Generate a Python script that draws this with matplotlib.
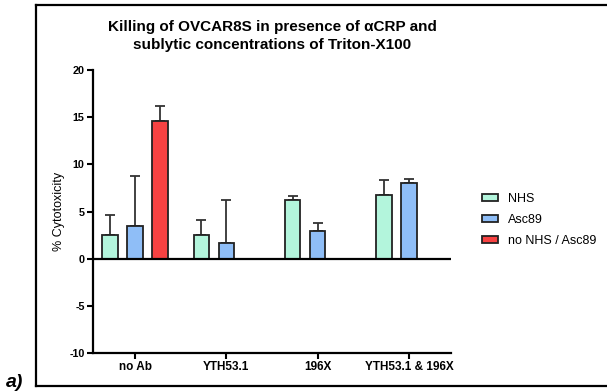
import numpy as np
import matplotlib
matplotlib.use("Agg")
import matplotlib.pyplot as plt
from matplotlib.lines import Line2D

plt.rcParams['font.family'] = ['Liberation Sans', 'DejaVu Sans']
plt.rcParams['axes.unicode_minus'] = False

# data
groups = ["no Ab", "YTH53.1", "196X", "YTH53.1 & 196X"]
nhs_mean = [2.5, 2.5, 6.2, 6.7]
nhs_err = [2.1, 1.55, 0.45, 1.6]
asc_mean = [3.5, 1.65, 2.9, 8.0]
asc_err = [5.3, 4.55, 0.9, 0.4]
ctrl_mean = [14.6]
ctrl_err = [1.6]

series = [
    ("NHS", nhs_mean, nhs_err, "#b3f5dc", -0.273),
    ("Asc89", asc_mean, asc_err, "#8fbef7", 0.0),
    ("no NHS / Asc89", ctrl_mean, ctrl_err, "#f74242", 0.273),
]

fig = plt.figure(figsize=(6.07, 3.92), dpi=100)
ax = fig.add_axes([0.1532, 0.0995, 0.5898, 0.7219])

x = np.arange(len(groups))
for label, mean, err, color, off in series:
    pos = x[:len(mean)] + off
    ax.bar(pos, mean, width=0.17, color=color, edgecolor="#222222",
           linewidth=1.3, label=label, zorder=3)
    ax.errorbar(pos, mean, yerr=[np.zeros(len(err)), err], fmt="none",
                ecolor="#333333", elinewidth=1.3, capsize=3.5, capthick=1.3,
                zorder=2)

ax.axhline(0, color="black", linewidth=1.6, zorder=4)

ax.set_xlim(-0.46, 3.46)
ax.set_ylim(-10, 20)
ax.set_yticks([-10, -5, 0, 5, 10, 15, 20])
ax.set_xticks(x)
ax.set_xticklabels(groups, fontsize=8.5, fontweight="bold")
for t in ax.get_yticklabels():
    t.set_fontsize(7.8)
    t.set_fontweight("bold")
ax.tick_params(axis="both", direction="out", length=4, width=1.5, pad=2)

for s in ["top", "right"]:
    ax.spines[s].set_visible(False)
for s in ["left", "bottom"]:
    ax.spines[s].set_linewidth(1.6)

ax.set_ylabel("% Cytotoxicity", fontsize=9, labelpad=3)
ax.set_title("Killing of OVCAR8S in presence of \u03b1CRP and\n"
             "sublytic concentrations of Triton-X100",
             fontsize=11, fontweight="bold", pad=15, linespacing=1.4)

ax.legend(loc="center left", bbox_to_anchor=(1.087, 0.47), frameon=False,
          fontsize=9, handlelength=1.3, handleheight=0.5, handletextpad=0.8,
          labelspacing=0.75, borderaxespad=0, borderpad=0)

# outer frame and panel label
fig.add_artist(Line2D([35.5 / 607, 35.5 / 607], [1 - 5 / 392, 1 - 386 / 392],
                      color="black", linewidth=1.6))
fig.add_artist(Line2D([35.5 / 607, 1.0], [1 - 5 / 392, 1 - 5 / 392],
                      color="black", linewidth=1.6))
fig.add_artist(Line2D([35.5 / 607, 1.0], [1 - 386 / 392, 1 - 386 / 392],
                      color="black", linewidth=1.6))
fig.text(6 / 607, 0.003, "a)", fontsize=14, fontweight="bold",
         fontstyle="italic", va="bottom", ha="left")

fig.savefig("out.png", dpi=100)
